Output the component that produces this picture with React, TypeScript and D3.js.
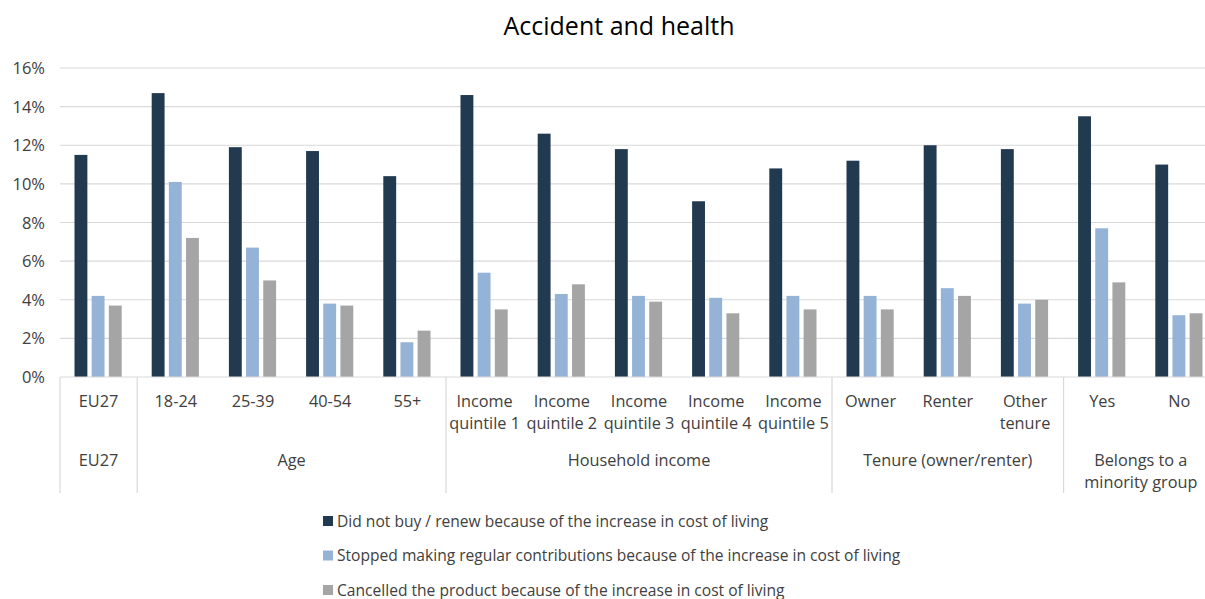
import React from 'react';
import * as d3 from 'd3';

const categories = ['EU27', '18-24', '25-39', '40-54', '55+', 'Income quintile 1', 'Income quintile 2', 'Income quintile 3', 'Income quintile 4', 'Income quintile 5', 'Owner', 'Renter', 'Other tenure', 'Yes', 'No'];
const categoryLines = [['EU27'], ['18-24'], ['25-39'], ['40-54'], ['55+'], ['Income', 'quintile 1'], ['Income', 'quintile 2'], ['Income', 'quintile 3'], ['Income', 'quintile 4'], ['Income', 'quintile 5'], ['Owner'], ['Renter'], ['Other', 'tenure'], ['Yes'], ['No']];
const groups = [
  { name: ['EU27'], from: 0, to: 0 },
  { name: ['Age'], from: 1, to: 4 },
  { name: ['Household income'], from: 5, to: 9 },
  { name: ['Tenure (owner/renter)'], from: 10, to: 12 },
  { name: ['Belongs to a', 'minority group'], from: 13, to: 14 },
];
const seriesNames = [
  'Did not buy / renew because of the increase in cost of living',
  'Stopped making regular contributions because of the increase in cost of living',
  'Cancelled the product because of the increase in cost of living',
];
const didNotBuy = [11.5, 14.7, 11.9, 11.7, 10.4, 14.6, 12.6, 11.8, 9.1, 10.8, 11.2, 12.0, 11.8, 13.5, 11.0];
const stoppedContrib = [4.2, 10.1, 6.7, 3.8, 1.8, 5.4, 4.3, 4.2, 4.1, 4.2, 4.2, 4.6, 3.8, 7.7, 3.2];
const cancelled = [3.7, 7.2, 5.0, 3.7, 2.4, 3.5, 4.8, 3.9, 3.3, 3.5, 3.5, 4.2, 4.0, 4.9, 3.3];
const yTicks = [0, 2, 4, 6, 8, 10, 12, 14, 16];
const colors = ['#213a50', '#95b3d7', '#a5a5a5'];

const W = 1205;
const H = 599;
const font = "'Open Sans', sans-serif";

export default function App() {
  const series = [didNotBuy, stoppedContrib, cancelled];
  const left = 60;
  const bandW = 77.2;
  const x = d3.scaleBand<string>().domain(categories).range([left, left + bandW * categories.length]).paddingInner(0).paddingOuter(0);
  const inner = d3.scaleBand<number>().domain([0, 1, 2]).range([14.5, bandW - 15.5]).paddingInner(0.25);
  const y = d3.scaleLinear().domain([0, 16]).range([377, 68]);
  const axisY = y(0);
  const sepBottom = 493;
  const edges = groups.map((g) => x(categories[g.from]) as number).concat([x(categories[categories.length - 1])! + bandW]);

  return (
    <svg width={W} height={H} style={{ position: 'absolute', left: 0, top: 0, background: '#fff' }} fontFamily={font}>
      <text x={619} y={35} textAnchor="middle" fontSize={25} fill="#000">Accident and health</text>
      {yTicks.map((t) => (
        <g key={t}>
          {t > 0 && <line x1={left} x2={W} y1={y(t)} y2={y(t)} stroke="#d9d9d9" strokeWidth={1.2} />}
          <text x={45} y={y(t) + 6} textAnchor="end" fontSize={16.5} fill="#404040">{t}%</text>
        </g>
      ))}
      {series.map((vals, si) =>
        vals.map((v, ci) => (
          <rect key={`${si}-${ci}`} x={(x(categories[ci]) as number) + (inner(si) as number)} y={y(v)} width={inner.bandwidth()} height={axisY - y(v)} fill={colors[si]} />
        ))
      )}
      <line x1={left} x2={W} y1={axisY} y2={axisY} stroke="#d9d9d9" strokeWidth={1.2} />
      {edges.map((e, i) => (
        <line key={i} x1={e} x2={e} y1={axisY} y2={sepBottom} stroke="#d9d9d9" strokeWidth={1.2} />
      ))}
      {categoryLines.map((lines, ci) => (
        <text key={ci} textAnchor="middle" fontSize={16.3} fill="#404040">
          {lines.map((l, li) => (
            <tspan key={li} x={(x(categories[ci]) as number) + bandW / 2} y={407 + li * 22}>{l}</tspan>
          ))}
        </text>
      ))}
      {groups.map((g, gi) => {
        const cx = ((x(categories[g.from]) as number) + (x(categories[g.to]) as number) + bandW) / 2;
        return (
          <text key={gi} textAnchor="middle" fontSize={16.3} fill="#404040">
            {g.name.map((l, li) => (
              <tspan key={li} x={cx} y={466 + li * 22}>{l}</tspan>
            ))}
          </text>
        );
      })}
      {seriesNames.map((n, i) => (
        <g key={n} transform={`translate(323, ${521 + i * 34.5})`}>
          <rect x={0} y={-5} width={10} height={10} fill={colors[i]} />
          <text x={14} y={5.5} fontSize={15.6} fill="#404040">{n}</text>
        </g>
      ))}
    </svg>
  );
}
